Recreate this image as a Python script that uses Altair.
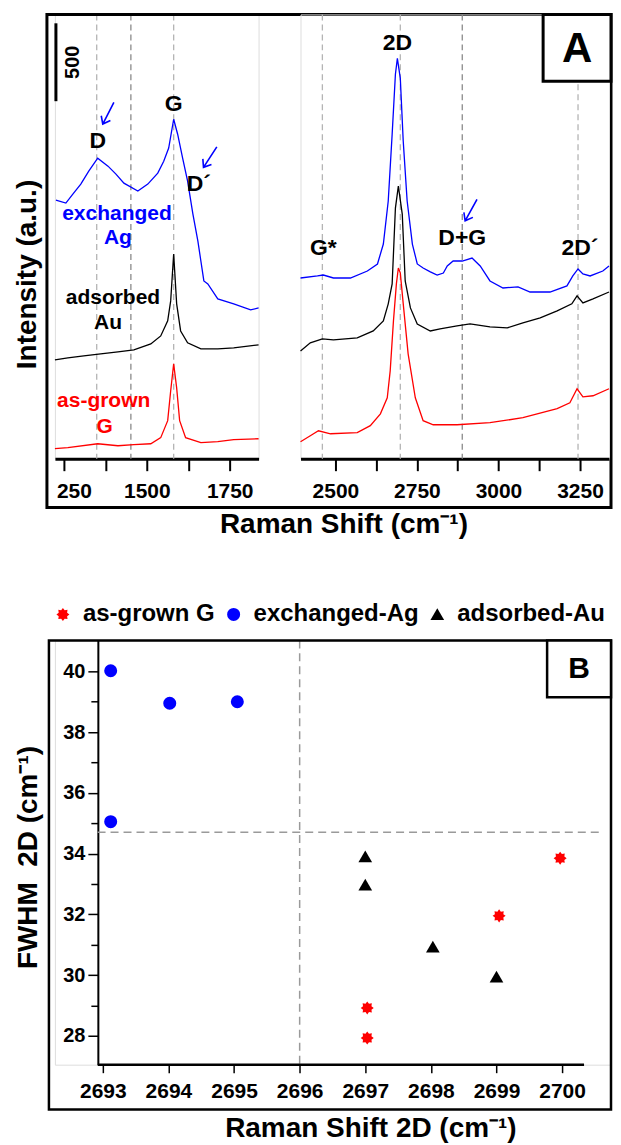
import math
import altair as alt
import pandas as pd

FONT = "Liberation Sans"
BLUE, BLACK, RED = "#0000ff", "#000000", "#ff0000"

# ---------------- Panel A : Raman spectra (shift cm-1, intensity a.u.) ----------------
samples = ["exchanged Ag", "adsorbed Au", "as-grown G"]
sample_colors = [BLUE, BLACK, RED]

ag_left_shift = [1226, 1256, 1277, 1301, 1325, 1352, 1383, 1407, 1431, 1473, 1503, 1533, 1551, 1566,
                 1581, 1593, 1608, 1623, 1639, 1654, 1663, 1672, 1684, 1714, 1762, 1813, 1837]
ag_left_int = [1660, 1641, 1699, 1763, 1846, 1929, 1878, 1827, 1769, 1718, 1763, 1833, 1910, 1994,
               2179, 2083, 1929, 1782, 1570, 1397, 1269, 1141, 1122, 1026, 994, 955, 968]

au_left_shift = [1223, 1262, 1310, 1361, 1413, 1461, 1512, 1542, 1563, 1572, 1581, 1590, 1602, 1623,
                 1663, 1714, 1762, 1837]
au_left_int = [635, 647, 660, 673, 686, 699, 737, 788, 885, 1013, 1314, 994, 820, 744,
               705, 705, 712, 731]

g_left_shift = [1223, 1262, 1352, 1413, 1461, 1512, 1542, 1563, 1572, 1581, 1590, 1599, 1617, 1663,
                1714, 1762, 1837]
g_left_int = [64, 71, 96, 83, 90, 96, 135, 244, 436, 609, 455, 244, 135, 103,
              109, 122, 128]

ag_right_shift = [2393, 2445, 2463, 2494, 2546, 2598, 2629, 2647, 2662, 2674, 2684, 2690, 2699, 2708,
                  2720, 2736, 2751, 2769, 2791, 2812, 2831, 2843, 2861, 2889, 2919, 2944, 2974, 3014,
                  3060, 3097, 3158, 3210, 3228, 3244, 3259, 3281, 3320, 3339]
ag_right_int = [1160, 1173, 1179, 1160, 1160, 1205, 1250, 1378, 1654, 2083, 2468, 2570, 2442, 2038,
                1654, 1378, 1250, 1224, 1199, 1179, 1192, 1237, 1269, 1269, 1288, 1237, 1141, 1096,
                1103, 1070, 1070, 1109, 1173, 1218, 1186, 1173, 1205, 1237]

au_right_shift = [2393, 2423, 2460, 2494, 2567, 2616, 2647, 2662, 2674, 2684, 2693, 2705, 2714, 2730,
                  2751, 2791, 2821, 2873, 2913, 2974, 3027, 3075, 3128, 3180, 3225, 3241, 3259, 3290, 3339]
au_right_int = [692, 744, 769, 763, 776, 820, 885, 994, 1122, 1609, 1750, 1570, 1141, 968,
                865, 820, 833, 853, 865, 846, 840, 872, 904, 949, 994, 1045, 1000, 1026, 1070]

g_right_shift = [2393, 2423, 2448, 2485, 2567, 2607, 2638, 2659, 2668, 2678, 2687, 2693, 2699, 2708,
                 2723, 2745, 2769, 2800, 2873, 2974, 3075, 3180, 3219, 3241, 3259, 3290, 3339]
g_right_int = [109, 147, 179, 160, 167, 212, 288, 391, 564, 885, 1122, 1224, 1192, 994,
               673, 391, 244, 218, 218, 231, 263, 321, 359, 449, 397, 404, 449]

# band positions (dashed guides)
left_bands_light = [1349, 1581]
left_bands_dark = [1452]
right_bands_light = [2460, 2699, 3244]
right_bands_dark = [2889]

# annotation labels
left_label_text = ["D", "G", "D´", "exchanged", "Ag", "adsorbed", "Au", "as-grown", "G"]
left_label_x = [1352, 1581, 1657, 1410, 1413, 1398, 1383, 1370, 1373]
left_label_y = [2038, 2276, 1763, 1570, 1417, 1032, 872, 372, 205]
left_label_color = [BLACK, BLACK, BLACK, BLUE, BLUE, BLACK, BLACK, RED, RED]
left_label_size = [23, 23, 23, 21, 21, 21, 21, 21, 21]

right_label_text = ["2D", "G*", "D+G", "2D´"]
right_label_x = [2690, 2463, 2889, 3250]
right_label_y = [2667, 1353, 1417, 1353]

# blue arrows (centre position, clockwise tilt from pointing straight down)
arrow_left_x = [1384, 1691]
arrow_left_y = [2218, 1936]
arrow_left_angle = [27, 33]
arrow_right_x = [2916]
arrow_right_y = [1596]
arrow_right_angle = [29]

scale_bar_lo, scale_bar_hi = [2295], [2795]

# ---------------- Panel B : FWHM vs 2D position ----------------
series_B = ["as-grown G", "exchanged-Ag", "adsorbed-Au"]
asgrown_shift = [2697.03, 2697.03, 2699.04, 2699.97]
asgrown_fwhm = [27.93, 28.92, 31.95, 33.85]
ag_shift = [2693.12, 2694.02, 2695.05, 2693.12]
ag_fwhm = [40.02, 38.95, 39.0, 35.05]
au_shift = [2697.0, 2697.0, 2698.03, 2699.0]
au_fwhm = [33.9, 32.97, 30.93, 29.94]
guide_shift = [2696]
guide_fwhm = [34.7]
x_ticks_B = [2693 + 0.5 * i for i in range(15)]
y_ticks_B = list(range(28, 41))


def spectrum_df(parts):
    rows = []
    for name, col, xs, ys in parts:
        for x, y in zip(xs, ys):
            rows.append({"shift": x, "intensity": y, "sample": name, "c": col})
    return pd.DataFrame(rows)


left_df = spectrum_df([(samples[0], sample_colors[0], ag_left_shift, ag_left_int),
                       (samples[1], sample_colors[1], au_left_shift, au_left_int),
                       (samples[2], sample_colors[2], g_left_shift, g_left_int)])
right_df = spectrum_df([(samples[0], sample_colors[0], ag_right_shift, ag_right_int),
                        (samples[1], sample_colors[1], au_right_shift, au_right_int),
                        (samples[2], sample_colors[2], g_right_shift, g_right_int)])

H_A, W_L, W_R = 445, 204, 309
yA = alt.Scale(domain=[0, 2852], nice=False, zero=False)
xL = alt.Scale(domain=[1223, 1837], nice=False, zero=False)
xR = alt.Scale(domain=[2393, 3339], nice=False, zero=False)

axis_common = dict(labelFont=FONT, labelFontWeight="bold", labelColor="black", domainColor="black",
                   tickColor="black", titleFont=FONT, titleFontWeight="bold", titleColor="black", grid=False)

xaxisL = alt.Axis(values=[1250, 1375, 1500, 1625, 1750], format="d",
                  labelExpr="datum.value == 1250 ? '250' : (datum.value == 1500 || datum.value == 1750 ? datum.label : '')",
                  labelOffset={"condition": {"test": "datum.value == 1250", "value": 10}, "value": 0},
                  domainWidth=3, tickWidth=2, tickSize=12, labelFontSize=21, labelPadding=10,
                  title="Raman Shift (cm⁻¹)", titleFontSize=28, titleX=289, titleY=66,
                  titleAlign="center", titleBaseline="middle", **axis_common)
xaxisR = alt.Axis(values=[2500, 2625, 2750, 2875, 3000, 3125, 3250], format="d",
                  labelExpr="datum.value % 250 == 0 ? datum.label : ''",
                  domainWidth=3, tickWidth=2, tickSize=12, labelFontSize=21, labelPadding=10,
                  title=None, **axis_common)
yaxisL = alt.Axis(labels=False, ticks=False, domain=False, title="Intensity (a.u.)", titleFontSize=28,
                  titleX=-27, titleY=260, titleAngle=270, titleAlign="center", titleBaseline="middle",
                  **axis_common)

one = pd.DataFrame({"k": [0]})
ARROW = "M0,-1 L0,1 M-0.42,0.45 L0,1 L0.42,0.45"

# ---- left sub-panel ----
lb = pd.DataFrame({"shift": left_bands_light + left_bands_dark,
                   "c": ["#b4b4b4"] * len(left_bands_light) + ["#8a8a8a"] * len(left_bands_dark)})
l_rules = alt.Chart(lb).mark_rule(strokeDash=[6, 4], strokeWidth=1.3).encode(
    x=alt.X("shift:Q", scale=xL, axis=xaxisL), color=alt.Color("c:N", scale=None))
l_lines = alt.Chart(left_df).mark_line(strokeWidth=1.3).encode(
    x=alt.X("shift:Q", scale=xL, axis=xaxisL), y=alt.Y("intensity:Q", scale=yA, axis=yaxisL),
    color=alt.Color("c:N", scale=None), detail="sample:N")
ll = pd.DataFrame({"shift": left_label_x, "intensity": left_label_y, "t": left_label_text,
                   "c": left_label_color, "s": left_label_size})
l_text = alt.Chart(ll).mark_text(font=FONT, fontWeight="bold", baseline="middle").encode(
    x=alt.X("shift:Q", scale=xL, axis=xaxisL), y=alt.Y("intensity:Q", scale=yA, axis=yaxisL),
    text="t:N", color=alt.Color("c:N", scale=None), size=alt.Size("s:Q", scale=None))
la = pd.DataFrame({"shift": arrow_left_x, "intensity": arrow_left_y, "a": arrow_left_angle})
l_arrows = alt.Chart(la).mark_point(shape=ARROW, filled=False, size=600, color=BLUE,
                                    strokeWidth=1.6, opacity=1).encode(
    x=alt.X("shift:Q", scale=xL, axis=xaxisL), y=alt.Y("intensity:Q", scale=yA, axis=yaxisL),
    angle=alt.Angle("a:Q", scale=None))
sb = pd.DataFrame({"lo": scale_bar_lo, "hi": scale_bar_hi})
l_bar = alt.Chart(sb).mark_rule(strokeWidth=3, color="black").encode(
    x=alt.value(1), y=alt.Y("lo:Q", scale=yA, axis=yaxisL), y2="hi:Q")
sbt = pd.DataFrame({"mid": [(scale_bar_lo[0] + scale_bar_hi[0]) / 2], "t": ["500"]})
l_bar_text = alt.Chart(sbt).mark_text(font=FONT, fontWeight="bold", fontSize=20, angle=270,
                                      baseline="middle", align="center").encode(
    x=alt.value(18), y=alt.Y("mid:Q", scale=yA, axis=yaxisL), text="t:N")
l_frame = alt.Chart(one).mark_rect(filled=False, stroke="black", strokeWidth=3).encode(
    x=alt.value(-8), x2=alt.value(557), y=alt.value(0), y2=alt.value(494))
left = alt.layer(l_rules, l_lines, l_text, l_arrows, l_bar, l_bar_text, l_frame).properties(
    width=W_L, height=H_A)

# ---- right sub-panel ----
rb = pd.DataFrame({"shift": right_bands_light + right_bands_dark,
                   "c": ["#b4b4b4"] * len(right_bands_light) + ["#8a8a8a"] * len(right_bands_dark)})
r_rules = alt.Chart(rb).mark_rule(strokeDash=[6, 4], strokeWidth=1.3).encode(
    x=alt.X("shift:Q", scale=xR, axis=xaxisR), color=alt.Color("c:N", scale=None))
r_lines = alt.Chart(right_df).mark_line(strokeWidth=1.3).encode(
    x=alt.X("shift:Q", scale=xR, axis=xaxisR), y=alt.Y("intensity:Q", scale=yA, axis=None),
    color=alt.Color("c:N", scale=None), detail="sample:N")
rl = pd.DataFrame({"shift": right_label_x, "intensity": right_label_y, "t": right_label_text})
r_text = alt.Chart(rl).mark_text(font=FONT, fontWeight="bold", fontSize=23, baseline="middle",
                                 color="black").encode(
    x=alt.X("shift:Q", scale=xR, axis=xaxisR), y=alt.Y("intensity:Q", scale=yA, axis=None), text="t:N")
ra = pd.DataFrame({"shift": arrow_right_x, "intensity": arrow_right_y, "a": arrow_right_angle})
r_arrows = alt.Chart(ra).mark_point(shape=ARROW, filled=False, size=600, color=BLUE,
                                    strokeWidth=1.6, opacity=1).encode(
    x=alt.X("shift:Q", scale=xR, axis=xaxisR), y=alt.Y("intensity:Q", scale=yA, axis=None),
    angle=alt.Angle("a:Q", scale=None))
r_box = alt.Chart(one).mark_rect(fill="white", stroke="black", strokeWidth=3).encode(
    x=alt.value(243), x2=alt.value(311), y=alt.value(0), y2=alt.value(67))
r_box_text = alt.Chart(pd.DataFrame({"t": ["A"]})).mark_text(
    font=FONT, fontWeight="bold", fontSize=42, baseline="middle", align="center").encode(
    x=alt.value(277), y=alt.value(35), text="t:N")
right = alt.layer(r_rules, r_lines, r_text, r_arrows, r_box, r_box_text).properties(
    width=W_R, height=H_A)

panelA = alt.hconcat(left, right, spacing=42, bounds="flush")

# ---------------- Panel B ----------------
W_B, H_B = 556, 425
xB = alt.Scale(domain=[2692.27, 2700.73], nice=False, zero=False)
yB = alt.Scale(domain=[27.05, 41.02], nice=False, zero=False)

xaxisB = alt.Axis(values=x_ticks_B, format="d", labelExpr="datum.value % 1 == 0 ? datum.label : ''",
                  domain=False, tickWidth=1.5,
                  tickSize={"condition": {"test": "datum.value % 1 != 0", "value": 5}, "value": 8},
                  labelFontSize=21, labelPadding=8,
                  title="Raman Shift 2D (cm⁻¹)", titleFontSize=28, titleX=316, titleY=64,
                  titleAlign="center", titleBaseline="middle", **axis_common)
yaxisB = alt.Axis(values=y_ticks_B, format="d", labelExpr="datum.value % 2 == 0 ? datum.label : ''",
                  offset=-43, domainWidth=2, tickWidth=1.5,
                  tickSize={"condition": {"test": "datum.value % 2 != 0", "value": 7}, "value": 10},
                  labelFontSize=20, labelPadding=3,
                  title="FWHM\u00a0 2D (cm⁻¹)", titleFontSize=28, titleX=-69, titleY=217, titleAngle=270,
                  titleAlign="center", titleBaseline="middle", **axis_common)

star_pts = []
for k in range(16):
    r = 1.0 if k % 2 == 0 else 0.7
    a = math.pi / 2 + k * math.pi / 8
    star_pts.append(f"{r * math.cos(a):.3f},{-r * math.sin(a):.3f}")
STAR = "M" + " L".join(star_pts) + " Z"
TRI = "M0,-0.95 L1.05,0.85 L-1.05,0.85 Z"

b_rows = []
for name, xs, ys in [(series_B[0], asgrown_shift, asgrown_fwhm),
                     (series_B[1], ag_shift, ag_fwhm),
                     (series_B[2], au_shift, au_fwhm)]:
    for x, y in zip(xs, ys):
        b_rows.append({"shift": x, "fwhm": y, "sample": name})
b_df = pd.DataFrame(b_rows)

legB = alt.Legend(orient="none", legendX=-4, legendY=589, direction="horizontal", columns=3, title=None,
                  labelFont=FONT, labelFontSize=24, labelFontWeight="bold", labelColor="black",
                  labelLimit=400, symbolSize=170, labelOffset=8, columnPadding=6, padding=0,
                  symbolStrokeWidth=0, symbolOpacity=1)

b_vrule = alt.Chart(pd.DataFrame({"shift": guide_shift})).mark_rule(
    strokeDash=[8, 5], color="#9a9a9a", strokeWidth=1.5).encode(
    x=alt.X("shift:Q", scale=xB, axis=xaxisB))
b_hrule = alt.Chart(pd.DataFrame({"fwhm": guide_fwhm, "x1": [2692.92], "x2": [2700.63]})).mark_rule(
    strokeDash=[8, 5], color="#9a9a9a", strokeWidth=1.5).encode(
    y=alt.Y("fwhm:Q", scale=yB, axis=yaxisB), x=alt.X("x1:Q", scale=xB, axis=xaxisB), x2="x2:Q")
b_base = alt.Chart(one).mark_rule(color="black", strokeWidth=2.5).encode(
    x=alt.value(43), x2=alt.value(530), y=alt.value(H_B))
b_pts = alt.Chart(b_df).mark_point(filled=True, opacity=1, size=170, strokeWidth=0).encode(
    x=alt.X("shift:Q", scale=xB, axis=xaxisB), y=alt.Y("fwhm:Q", scale=yB, axis=yaxisB),
    color=alt.Color("sample:N", scale=alt.Scale(domain=series_B, range=[RED, BLUE, BLACK]), legend=legB),
    shape=alt.Shape("sample:N", scale=alt.Scale(domain=series_B, range=[STAR, "circle", TRI]),
                    legend=legB))
b_frame = alt.Chart(one).mark_rect(filled=False, stroke="black", strokeWidth=2.5).encode(
    x=alt.value(-6), x2=alt.value(557), y=alt.value(0), y2=alt.value(470))
b_box = alt.Chart(one).mark_rect(fill="white", stroke="black", strokeWidth=2.5).encode(
    x=alt.value(493), x2=alt.value(557), y=alt.value(0), y2=alt.value(57))
b_box_text = alt.Chart(pd.DataFrame({"t": ["B"]})).mark_text(
    font=FONT, fontWeight="bold", fontSize=30, baseline="middle", align="center").encode(
    x=alt.value(525), y=alt.value(29), text="t:N")
panelB = alt.layer(b_vrule, b_hrule, b_base, b_pts, b_frame, b_box, b_box_text).properties(
    width=W_B, height=H_B)

# nested hconcat counts as zero height with flush bounds, so the spacing spans panel A's view too
chart = alt.vconcat(panelA, panelB, spacing=627, bounds="flush",
                    padding={"left": 5, "top": 3.5, "right": 0, "bottom": 0}).configure_view(
    stroke=None).configure(background="white")

chart.save("out.html", embed_options={"renderer": "svg", "actions": False})
